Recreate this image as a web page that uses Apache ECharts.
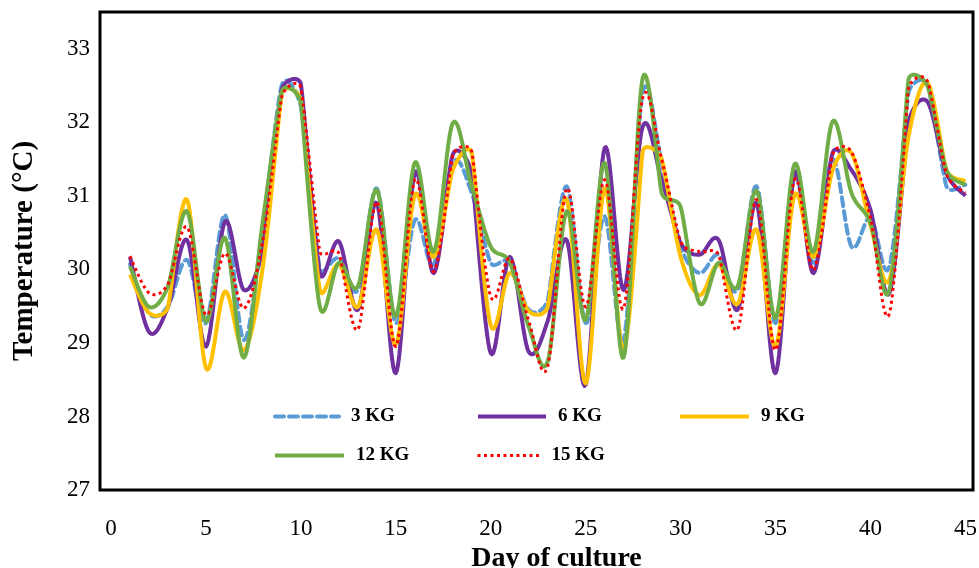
<!DOCTYPE html>
<html>
<head>
<meta charset="utf-8">
<script src="https://cdn.jsdelivr.net/npm/echarts@6/dist/echarts.min.js"></script>
<style>
  html, body { margin: 0; padding: 0; background: #fff; }
  #chart { width: 979px; height: 568px; }
</style>
</head>
<body>
<div id="chart"></div>
<script>
const days = Array.from({ length: 45 }, (_, i) => i + 1);
const xTicks = [0, 5, 10, 15, 20, 25, 30, 35, 40, 45];
const yTicks = [27, 28, 29, 30, 31, 32, 33];

const kg3 = [30.07, 29.4, 29.5, 30.13, 29.27, 30.74, 29.04, 30.6, 32.51, 32.21,
  30.0, 30.15, 29.72, 31.1, 29.27, 30.67, 30.07, 31.45, 31.04, 30.09,
  30.1, 29.45, 29.58, 31.13, 29.27, 30.72, 29.04, 32.4, 31.45, 30.31,
  29.95, 30.2, 29.72, 31.13, 29.27, 31.27, 30.09, 31.5, 30.31, 30.7,
  30.04, 32.4, 32.52, 31.13, 31.15];
const kg6 = [30.17, 29.15, 29.49, 30.4, 28.95, 30.65, 29.72, 30.3, 32.45, 32.52,
  29.95, 30.38, 29.45, 30.9, 28.59, 31.31, 29.95, 31.56, 31.3, 28.86,
  30.17, 28.88, 29.3, 30.4, 28.43, 31.65, 29.72, 31.94, 31.22, 30.36,
  30.2, 30.4, 29.45, 30.9, 28.59, 31.31, 29.95, 31.58, 31.35, 30.81,
  29.68, 31.99, 32.28, 31.31, 31.0];
const kg9 = [29.93, 29.41, 29.49, 30.95, 28.66, 29.7, 28.9, 30.04, 32.4, 32.3,
  29.72, 30.07, 29.49, 30.54, 28.98, 31.01, 30.17, 31.35, 31.58, 29.24,
  29.95, 29.43, 29.49, 30.95, 28.45, 31.1, 28.9, 31.6, 31.5, 30.17,
  29.65, 30.07, 29.53, 30.54, 28.95, 31.01, 30.17, 31.35, 31.58, 30.6,
  29.86, 31.8, 32.54, 31.35, 31.2];
const kg12 = [30.04, 29.49, 29.77, 30.79, 29.29, 30.43, 28.8, 30.67, 32.42, 32.26,
  29.49, 30.09, 29.77, 31.08, 29.36, 31.45, 30.24, 31.99, 31.13, 30.31,
  30.1, 29.22, 28.75, 30.79, 29.31, 31.45, 28.8, 32.6, 31.04, 30.85,
  29.54, 30.09, 29.77, 31.07, 29.34, 31.43, 30.24, 32.01, 31.04, 30.63,
  29.72, 32.58, 32.5, 31.35, 31.15];
const kg15 = [30.18, 29.68, 29.8, 30.58, 29.38, 30.22, 29.47, 30.4, 32.35, 32.47,
  30.24, 30.22, 29.18, 30.92, 28.95, 31.22, 29.97, 31.55, 31.6, 29.63,
  30.15, 29.3, 28.68, 31.1, 29.49, 31.22, 29.47, 32.33, 31.5, 30.38,
  30.24, 30.2, 29.18, 30.95, 28.9, 31.22, 29.99, 31.56, 31.6, 30.7,
  29.4, 32.45, 32.56, 31.3, 31.04];

const font = 'Liberation Serif';
const chart = echarts.init(document.getElementById('chart'), null, { renderer: 'canvas' });

const styles = {
  '3 KG': { color: '#5B9BD5', width: 4, type: [9, 5], cap: 'round' },
  '6 KG': { color: '#7030A0', width: 4, type: 'solid', cap: 'butt' },
  '9 KG': { color: '#FFC000', width: 4, type: 'solid', cap: 'butt' },
  '12 KG': { color: '#70AD47', width: 4, type: 'solid', cap: 'butt' },
  '15 KG': { color: '#FF0000', width: 3, type: [3, 3.5], cap: 'butt' }
};
const seriesData = { '3 KG': kg3, '6 KG': kg6, '9 KG': kg9, '12 KG': kg12, '15 KG': kg15 };
const names = Object.keys(seriesData);

const dist = (a, b) => Math.hypot(a[0] - b[0], a[1] - b[1]);

// Excel-like smoothing: tangent (next - prev) / 6, capped at half of the shorter neighbouring segment
function smoothPoints(api, vals) {
  const p = days.map((d, i) => api.coord([d, vals[i]]));
  const n = p.length;
  const tan = p.map((pt, i) => {
    const a = p[Math.max(i - 1, 0)], b = p[Math.min(i + 1, n - 1)];
    const t = [b[0] - a[0], b[1] - a[1]];
    const len = Math.hypot(t[0], t[1]) || 1;
    let f = 1 / 6;
    const dPrev = i > 0 ? dist(p[i - 1], pt) : Infinity;
    const dNext = i < n - 1 ? dist(pt, p[i + 1]) : Infinity;
    const lim = Math.min(dPrev, dNext) / 2;
    if (len * f > lim) f = lim / len;
    return [t[0] * f, t[1] * f];
  });
  const out = [p[0]];
  for (let i = 0; i < n - 1; i++) {
    const p1 = p[i], p2 = p[i + 1];
    const c1 = [p1[0] + tan[i][0], p1[1] + tan[i][1]];
    const c2 = [p2[0] - tan[i + 1][0], p2[1] - tan[i + 1][1]];
    for (let s = 1; s <= 16; s++) {
      const t = s / 16, u = 1 - t;
      out.push([
        u * u * u * p1[0] + 3 * u * u * t * c1[0] + 3 * u * t * t * c2[0] + t * t * t * p2[0],
        u * u * u * p1[1] + 3 * u * u * t * c1[1] + 3 * u * t * t * c2[1] + t * t * t * p2[1]
      ]);
    }
  }
  return out;
}

// empty line series only carry the legend entries
const legendSeries = names.map((name) => ({
  name, type: 'line', data: [], symbol: 'none', lineStyle: styles[name], itemStyle: { color: styles[name].color }
}));

const curveSeries = names.map((name) => ({
  name,
  type: 'custom',
  data: [[days[0], seriesData[name][0]]],
  encode: { x: 0, y: 1 },
  silent: true,
  renderItem: (params, api) => ({
    type: 'polyline',
    shape: { points: smoothPoints(api, seriesData[name]) },
    style: {
      fill: null,
      stroke: styles[name].color,
      lineWidth: styles[name].width,
      lineDash: Array.isArray(styles[name].type) ? styles[name].type : null,
      lineCap: styles[name].cap,
      lineJoin: 'round'
    }
  })
}));

const legendItem = (name, left, top, width) => ({
  data: [name],
  left,
  top,
  padding: 0,
  itemWidth: width,
  itemHeight: 14,
  itemStyle: { opacity: 0, borderWidth: 0 },
  lineStyle: styles[name],
  textStyle: { fontFamily: font, fontSize: 19, fontWeight: 'bold', color: '#000', padding: [0, 0, 0, 7] }
});

chart.setOption({
  backgroundColor: '#fff',
  animation: false,
  grid: {
    left: 100, right: 6, top: 12, bottom: 78,
    outerBoundsMode: 'none', containLabel: false,
    show: true, borderColor: '#000', borderWidth: 3, backgroundColor: '#fff'
  },
  legend: [
    legendItem('3 KG', 273, 407, 64),
    legendItem('6 KG', 476, 407, 68),
    legendItem('9 KG', 678, 407, 69),
    legendItem('12 KG', 273, 446, 69),
    legendItem('15 KG', 476, 446, 62)
  ],
  xAxis: {
    type: 'value',
    min: -0.58,
    max: 45.4,
    name: 'Day of culture',
    nameLocation: 'middle',
    nameGap: 52,
    nameTextStyle: { fontFamily: font, fontSize: 28, fontWeight: 'bold', color: '#000', padding: [0, 0, 0, 40] },
    axisLine: { show: false },
    axisTick: { show: false },
    splitLine: { show: false },
    axisLabel: { customValues: xTicks, margin: 27, fontFamily: font, fontSize: 23, color: '#000' }
  },
  yAxis: {
    type: 'value',
    min: 27,
    max: 33.5,
    name: 'Temperature (°C)',
    nameLocation: 'middle',
    nameGap: 61,
    nameTextStyle: { fontFamily: font, fontSize: 29, fontWeight: 'bold', color: '#000' },
    axisLine: { show: false },
    axisTick: { show: false },
    splitLine: { show: false },
    axisLabel: { customValues: yTicks, margin: 10, fontFamily: font, fontSize: 23, color: '#000' }
  },
  series: legendSeries.concat(curveSeries)
});
</script>
</body>
</html>
